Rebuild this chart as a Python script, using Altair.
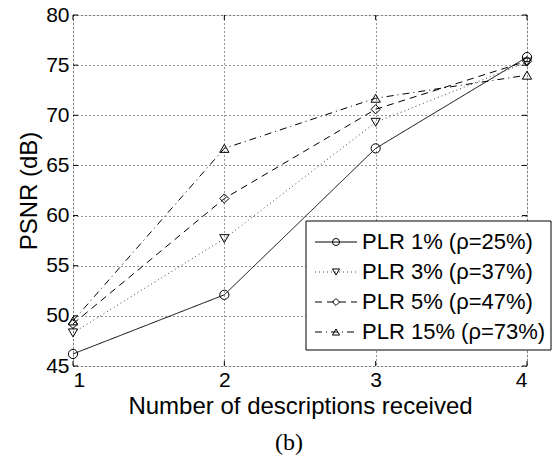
import altair as alt
import pandas as pd

# ---- data ----
descriptions = [1, 2, 3, 4]
series = ["PLR 1% (ρ=25%)", "PLR 3% (ρ=37%)", "PLR 5% (ρ=47%)", "PLR 15% (ρ=73%)"]
psnr_plr1 = [46.2, 52.1, 66.7, 75.8]
psnr_plr3 = [48.3, 57.7, 69.3, 75.3]
psnr_plr5 = [49.2, 61.7, 70.6, 75.4]
psnr_plr15 = [49.5, 66.7, 71.7, 74.0]
x_ticks = [1, 2, 3, 4]
y_ticks = [45, 50, 55, 60, 65, 70, 75, 80]
caption = "(b)"

W, H = 454, 351
FONT = "Liberation Sans"

rows = []
for name, vals in zip(series, [psnr_plr1, psnr_plr3, psnr_plr5, psnr_plr15]):
    for d, v in zip(descriptions, vals):
        rows.append({"series": name, "n": d, "psnr": v})
df = pd.DataFrame(rows)

dash_scale = alt.Scale(domain=series, range=[[1, 0], [1, 3], [7, 5], [7, 4, 1, 4]])
shape_scale = alt.Scale(domain=series, range=["circle", "triangle-down", "diamond", "triangle-up"])
color_scale = alt.Scale(domain=series, range=["#000000", "#444444", "#000000", "#000000"])

xs = alt.Scale(domain=[1, 4], nice=False, zero=False)
ys = alt.Scale(domain=[45, 80], nice=False, zero=False)

x_enc = alt.X("n:Q", scale=xs, axis=alt.Axis(
    values=x_ticks, format="d", title="Number of descriptions received",
    grid=True, gridDash=[1, 3], gridColor="#000000", gridOpacity=0.85,
    ticks=False, domain=False, labelPadding=3,
    titleY=47, titleBaseline="alphabetic",
    labelFontSize=21, titleFontSize=24, labelFont=FONT, titleFont=FONT,
    labelColor="#000", titleColor="#000", titleFontWeight="normal"))
y_enc = alt.Y("psnr:Q", scale=ys, axis=alt.Axis(
    values=y_ticks, title="PSNR (dB)",
    grid=True, gridDash=[1, 3], gridColor="#000000", gridOpacity=0.85,
    ticks=False, domain=False, labelPadding=4, titlePadding=4,
    labelFontSize=21, titleFontSize=24, labelFont=FONT, titleFont=FONT,
    labelColor="#000", titleColor="#000", titleFontWeight="normal"))

base = alt.Chart(df)
lines = base.mark_line(strokeWidth=1).encode(
    x=x_enc, y=y_enc,
    strokeDash=alt.StrokeDash("series:N", scale=dash_scale, legend=None),
    color=alt.Color("series:N", scale=color_scale, legend=None),
    detail="series:N",
)
points = base.mark_point(filled=False, size=85, strokeWidth=1, color="#000", opacity=1).encode(
    x=alt.X("n:Q", scale=xs),
    y=alt.Y("psnr:Q", scale=ys),
    shape=alt.Shape("series:N", scale=shape_scale, legend=None),
)

xt = pd.DataFrame({"t": x_ticks})
yt = pd.DataFrame({"t": y_ticks})
tick_x_bottom = alt.Chart(xt).mark_rule(color="#000").encode(
    x=alt.X("t:Q", scale=xs), y=alt.value(H), y2=alt.value(H - 5))
tick_x_top = alt.Chart(xt).mark_rule(color="#000").encode(
    x=alt.X("t:Q", scale=xs), y=alt.value(0), y2=alt.value(5))
tick_y_left = alt.Chart(yt).mark_rule(color="#000").encode(
    y=alt.Y("t:Q", scale=ys), x=alt.value(0), x2=alt.value(5))
tick_y_right = alt.Chart(yt).mark_rule(color="#000").encode(
    y=alt.Y("t:Q", scale=ys), x=alt.value(W), x2=alt.value(W - 5))

main = alt.layer(lines, points, tick_x_bottom, tick_x_top, tick_y_left, tick_y_right)

# ---- legend drawn as marks ----
leg = pd.DataFrame({"series": series})
ly = alt.Y("series:N", scale=alt.Scale(type="point", domain=series, range=[227, 317], padding=0), axis=None)
leg_box = alt.Chart(pd.DataFrame({"c": [caption]})).mark_rect(
    fill="white", stroke="#000", strokeWidth=1).encode(
    x=alt.value(233), x2=alt.value(478), y=alt.value(206), y2=alt.value(335))
leg_line = alt.Chart(leg).mark_rule(strokeWidth=1).encode(
    x=alt.value(242), x2=alt.value(284), y=ly,
    strokeDash=alt.StrokeDash("series:N", scale=dash_scale, legend=None),
    color=alt.Color("series:N", scale=color_scale, legend=None))
leg_pt = alt.Chart(leg).mark_point(filled=False, size=50, strokeWidth=1, color="#000", opacity=1).encode(
    x=alt.value(263), y=ly,
    shape=alt.Shape("series:N", scale=shape_scale, legend=None))
leg_txt = alt.Chart(leg).mark_text(align="left", baseline="middle", font=FONT, fontSize=22, color="#000").encode(
    x=alt.value(289), y=ly, text="series:N")
cap = alt.Chart(pd.DataFrame({"c": [caption]})).mark_text(
    align="center", baseline="middle", font="Liberation Serif", fontSize=24, color="#000").encode(
    x=alt.value(216), y=alt.value(428), text="c:N")

legend = alt.layer(leg_box, leg_line, leg_pt, leg_txt, cap)

chart = alt.layer(main, legend).resolve_scale(y="independent").properties(
    width=W, height=H,
    autosize=alt.AutoSizeParams(type="none"),
    padding={"left": 73, "top": 15, "right": 25, "bottom": 96},
).configure_view(stroke="#000", strokeWidth=1).configure(background="white")

chart.save("out.html", embed_options={"renderer": "svg", "actions": False})
